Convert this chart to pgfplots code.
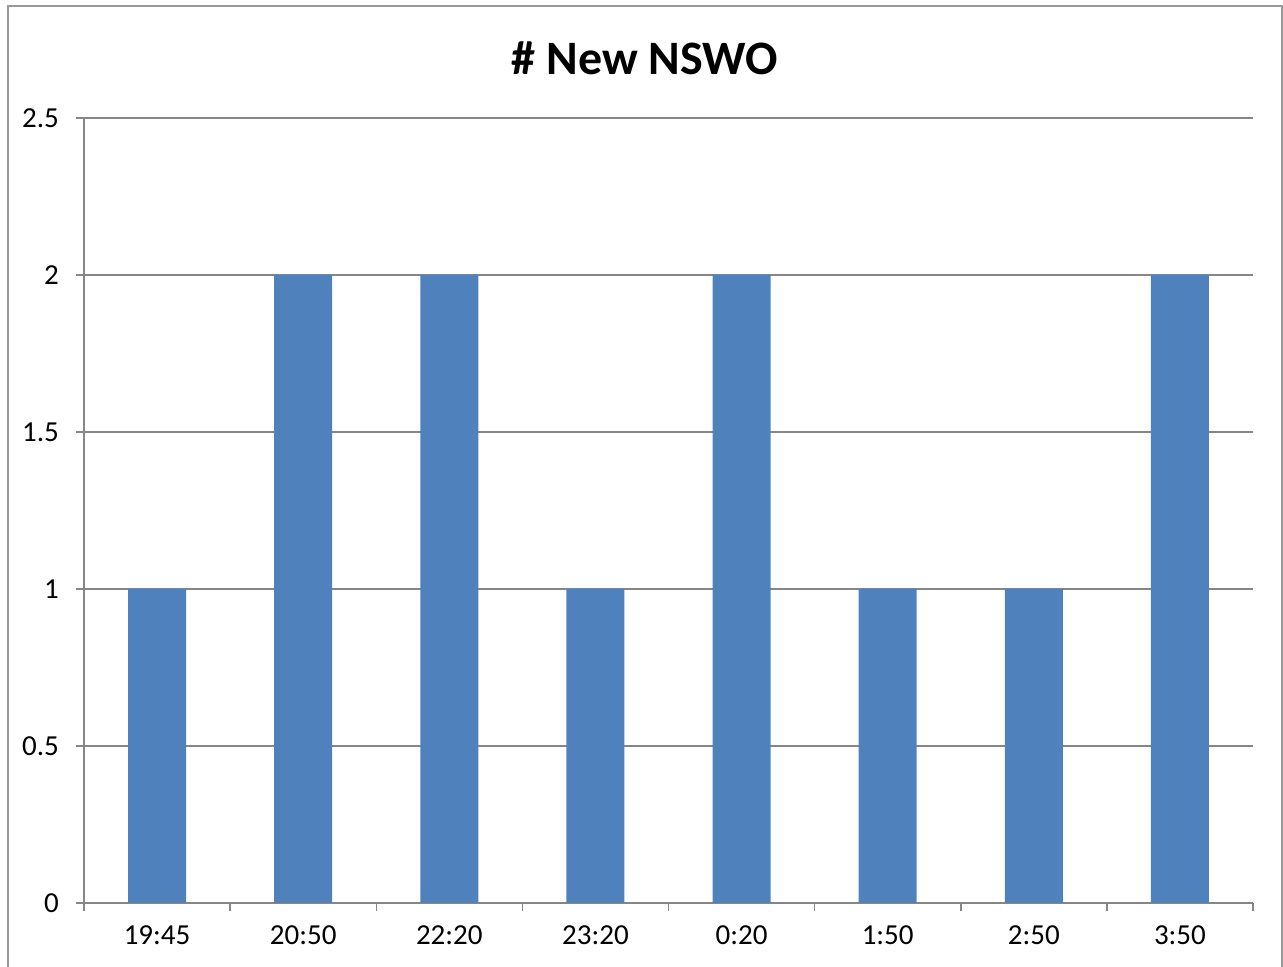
\documentclass[border=0pt]{standalone}
\usepackage{fontspec}
\setmainfont{Carlito}
\usepackage{pgfplots}
\pgfplotsset{compat=1.18}
\definecolor{barblue}{HTML}{4F81BD}
\definecolor{gridgray}{HTML}{868686}
\definecolor{framegray}{HTML}{9A9A9A}
\begin{document}
% 1 px of the reference = 0.5pt; origin at the axis' lower-left corner (84px, 903px)
\begin{tikzpicture}
\useasboundingbox (-42pt,-32pt) rectangle (599.5pt,451.5pt);
\clip (-42pt,-32pt) rectangle (599.5pt,451.5pt);
\draw[framegray, line width=1pt] (-38pt,-40pt) -- (-38pt,448.5pt) -- (599pt,448.5pt) -- (599pt,-40pt);
\node[font=\fontsize{24}{28}\selectfont\bfseries] at (280.5pt,422.5pt) {\# New NSWO};
\begin{axis}[
    at={(0,0)}, anchor=south west,
    scale only axis,
    width=584.5pt, height=392.5pt,
    xmin=-0.5, xmax=7.5,
    ymin=0, ymax=2.5,
    ytick={0,0.5,...,2.5},
    xtick={0,...,7},
    xticklabels={19:45,20:50,22:20,23:20,0:20,1:50,2:50,3:50},
    minor xtick={-0.5,0.5,...,7.5},
    major x tick style={draw=none},
    tick align=outside,
    major tick length=4pt,
    minor tick length=4pt,
    tick style={gridgray, line width=0.75pt},
    axis x line*=bottom,
    axis y line*=left,
    axis line style={gridgray, line width=1pt, -},
    ymajorgrids=true,
    grid style={gridgray, line width=0.75pt},
    ticklabel style={font=\fontsize{14.5}{17}\selectfont},
    /pgf/number format/assume math mode=true,
    yticklabel style={xshift=-5pt},
    xticklabel style={yshift=-4pt},
    ybar,
    bar width=29pt,
]
\addplot[fill=barblue, draw=none] coordinates {
    (0,1) (1,2) (2,2) (3,1) (4,2) (5,1) (6,1) (7,2)
};
\end{axis}
\end{tikzpicture}
\end{document}
